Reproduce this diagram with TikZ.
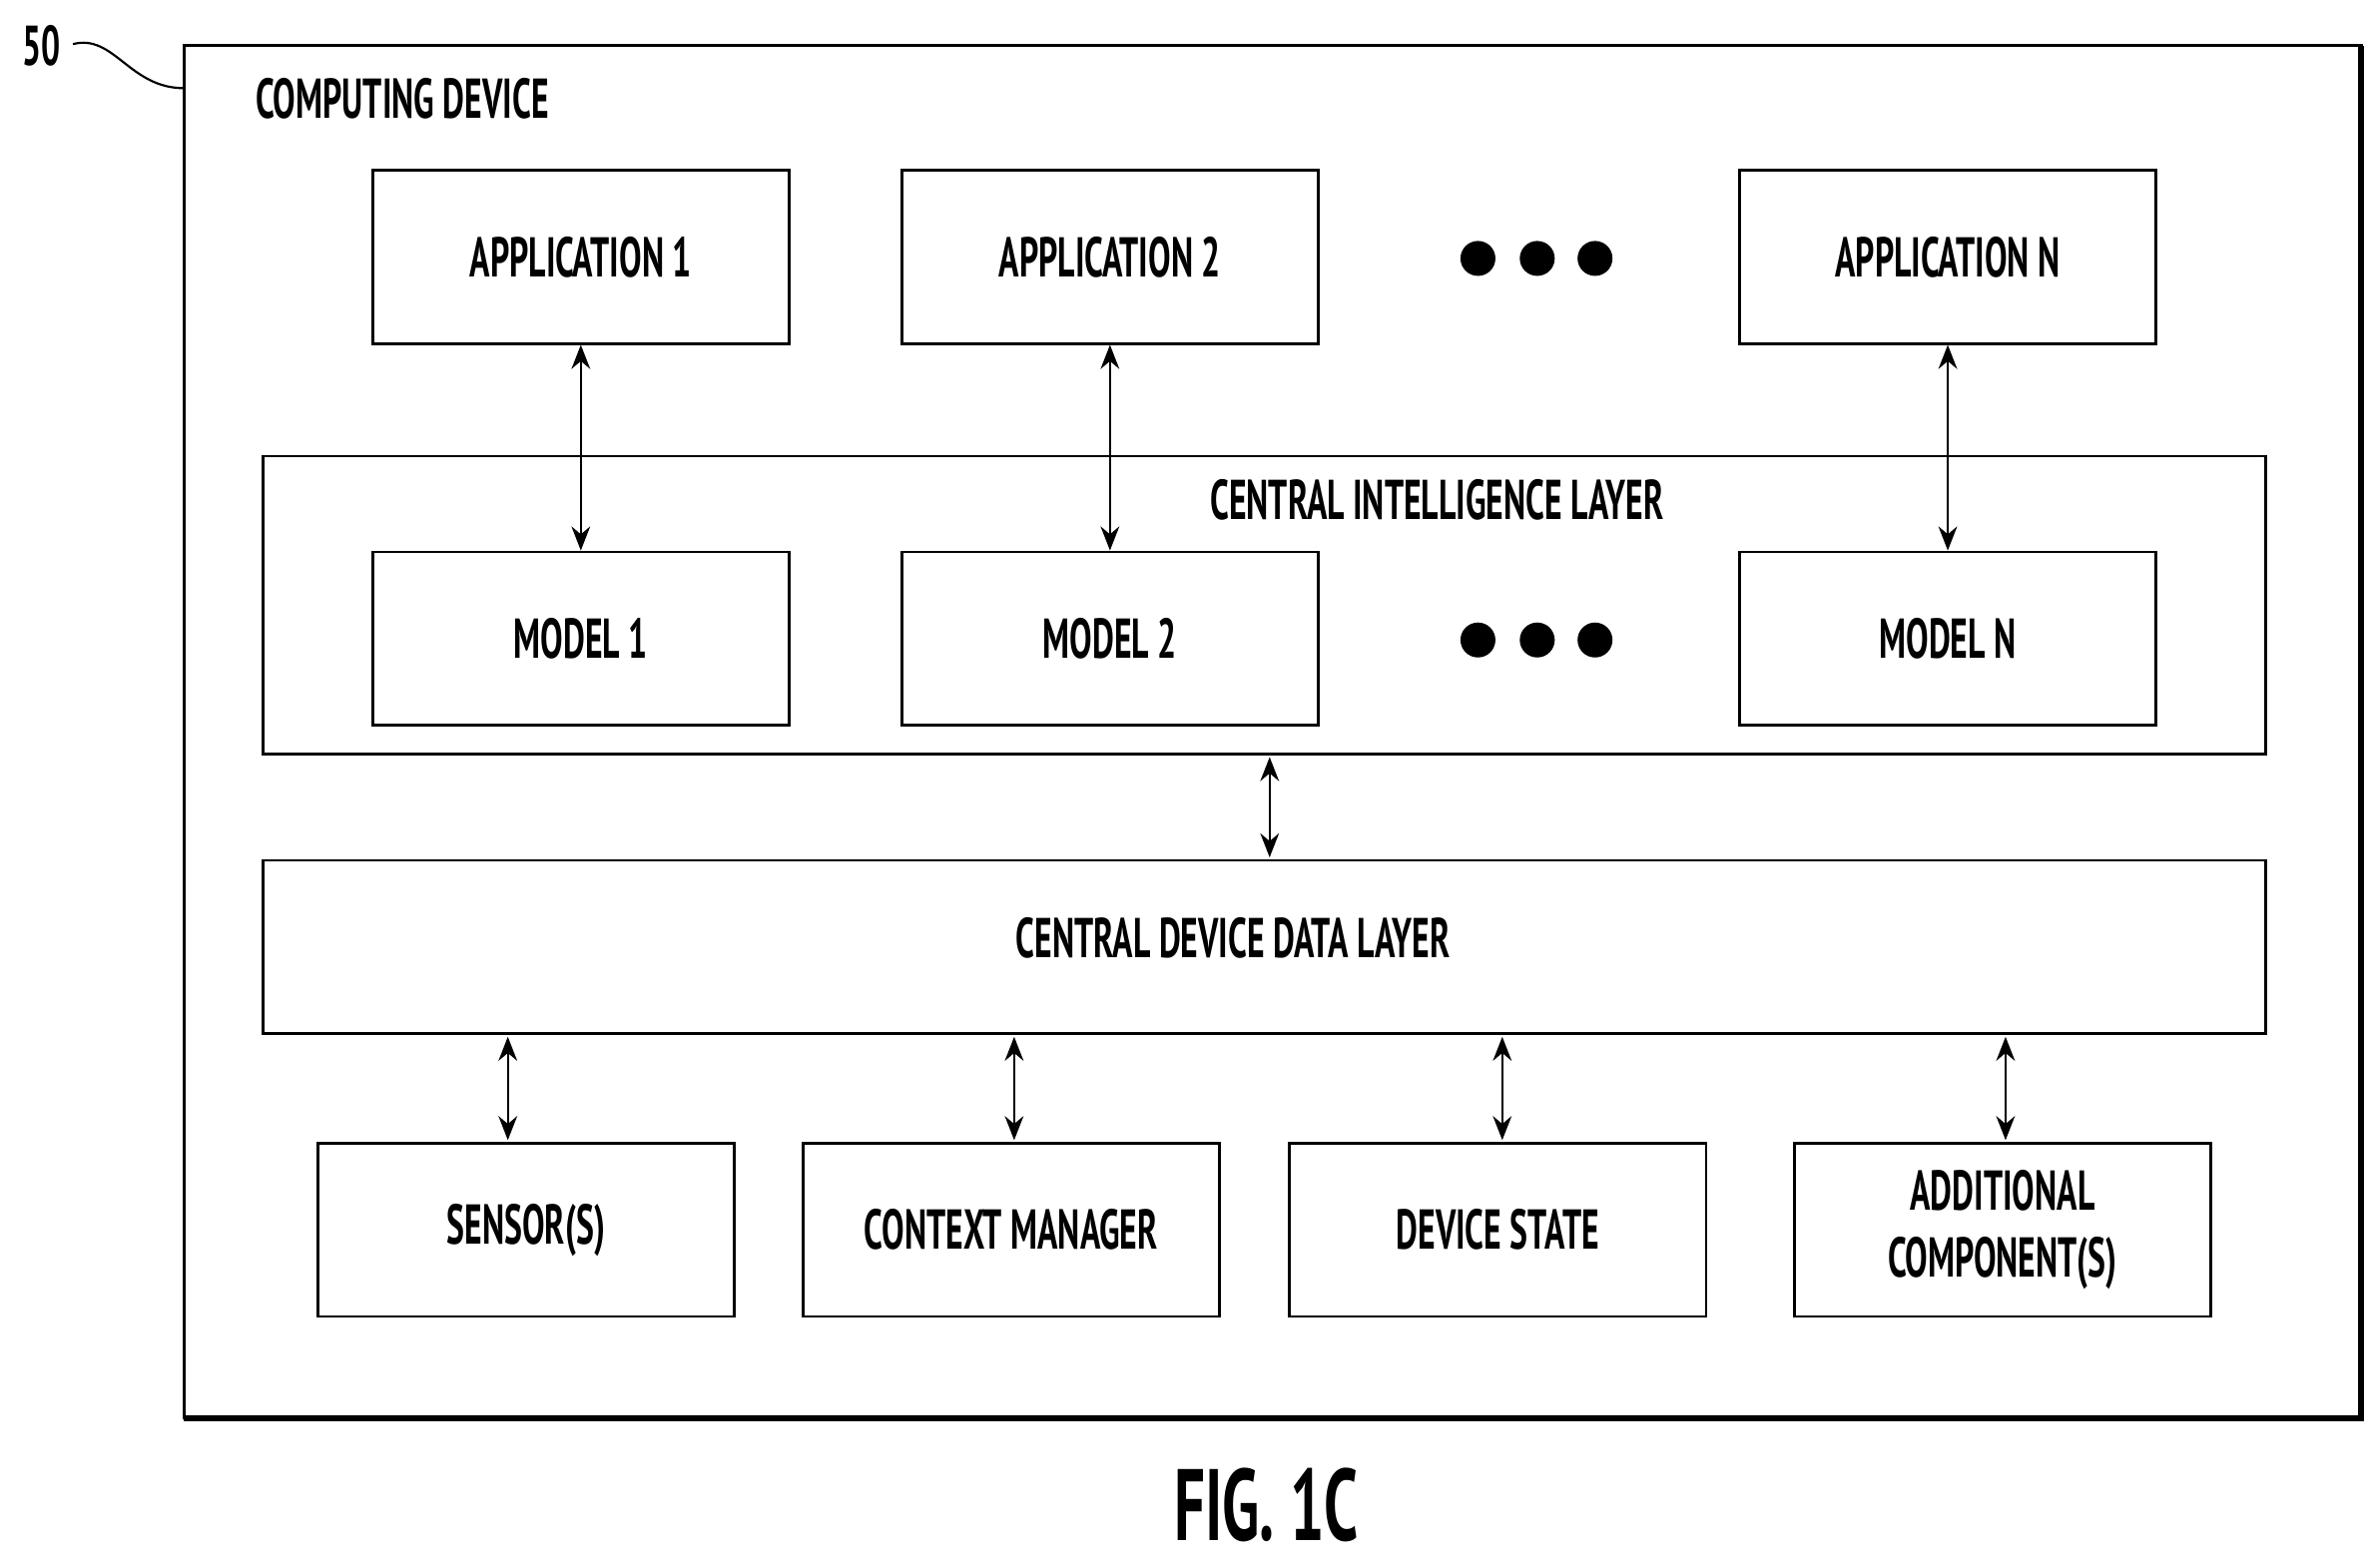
\documentclass[tikz,border=0pt]{standalone}
\usepackage{fontspec}
\setmainfont[FakeStretch=0.6]{PT Sans}
\usetikzlibrary{arrows.meta}
\tikzset{
  blk/.style={draw,line width=1pt,minimum width=5.48cm,minimum height=2.28cm,align=center,font=\fontsize{21}{25}\selectfont\bfseries},
  lyr/.style={draw,line width=1pt,anchor=north west},
  link/.style={line width=0.9pt,{Stealth[length=9pt,width=7pt]}-{Stealth[length=9pt,width=7pt]}},
  dot/.style={circle,fill,inner sep=0pt,minimum size=0.46cm}
}
\begin{document}
\begin{tikzpicture}[x=0.02cm,y=-0.02cm]
\useasboundingbox (0,0) rectangle (1560,1031);
% outer device
\draw[line width=1pt] (121,30) rectangle (1553,933);
\draw[line width=2.2pt] (121,933) -- (1553,933) -- (1553,30);
\node[font=\fontsize{21}{25}\selectfont\bfseries] (ref) at (27,30) {50};
\draw[line width=0.8pt] (48,29) .. controls (75,22) and (85,58) .. (121,58);
\node[font=\fontsize{21}{25}\selectfont\bfseries,anchor=west] (title) at (162,65) {COMPUTING DEVICE};
% applications
\node[blk] (app1) at (382,169) {APPLICATION 1};
\node[blk] (app2) at (730,169) {APPLICATION 2};
\node[blk] (appn) at (1281,169) {APPLICATION N};
% central intelligence layer
\draw[lyr] (173,300) rectangle (1490,496);
\node[font=\fontsize{21}{25}\selectfont\bfseries] (cil) at (945,329) {CENTRAL INTELLIGENCE LAYER};
\node[blk] (m1) at (382,420) {MODEL 1};
\node[blk] (m2) at (730,420) {MODEL 2};
\node[blk] (mn) at (1281,420) {MODEL N};
\foreach \x in {972,1011,1049}{
  \node[dot] at (\x,170) {};
  \node[dot] at (\x,421) {};
}
\draw[link] (app1.south) -- (m1.north);
\draw[link] (app2.south) -- (m2.north);
\draw[link] (appn.south) -- (mn.north);
% central device data layer
\draw[lyr] (173,566) rectangle (1490,680);
\node[font=\fontsize{21}{25}\selectfont\bfseries] (cddl) at (811,617) {CENTRAL DEVICE DATA LAYER};
\coordinate (cilb) at (835,498);
\coordinate (cddlt) at (835,564);
\draw[link] (cilb) -- (cddlt);
% components
\node[blk] (sens) at (346,809) {SENSOR(S)};
\node[blk] (ctx) at (665,809) {CONTEXT MANAGER};
\node[blk] (state) at (985,809) {DEVICE STATE};
\node[blk] (addl) at (1317,809) {ADDITIONAL\\COMPONENT(S)};
\foreach \n/\x in {sens/334,ctx/667,state/988,addl/1319}{
  \coordinate (\n t) at (\x,682);
  \draw[link] (\n t) -- (\x,750);
}
\node[font=\fontsize{38}{44}\selectfont\bfseries] (fig) at (833,990) {FIG. 1C};
\end{tikzpicture}
\end{document}
